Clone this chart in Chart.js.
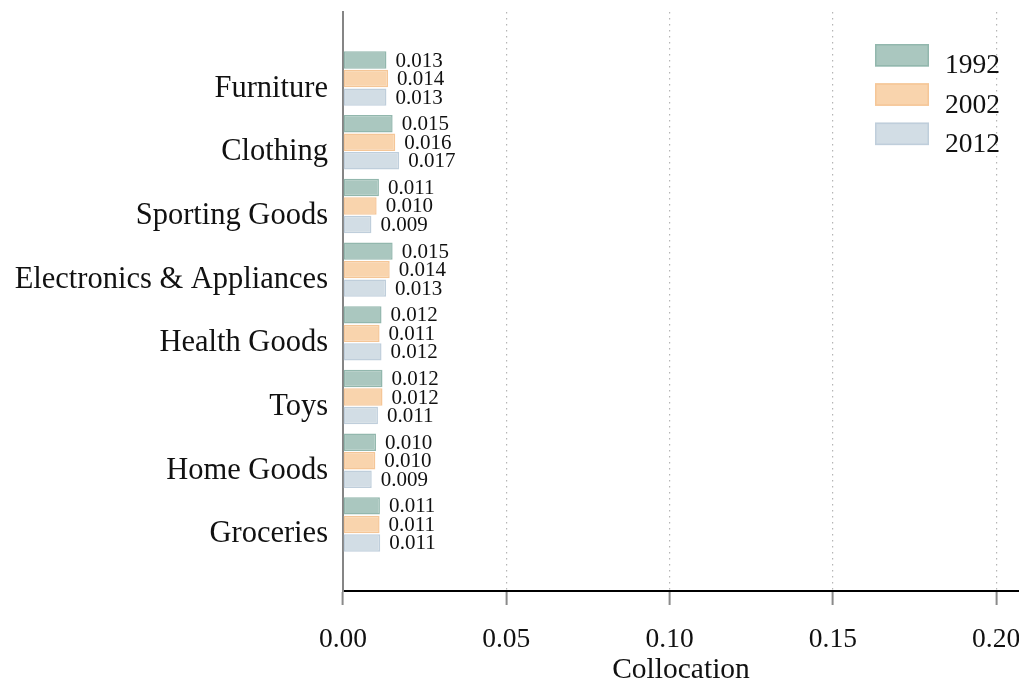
<!DOCTYPE html>
<html>
<head>
<meta charset="utf-8">
<script src="https://cdn.jsdelivr.net/npm/chart.js@4/dist/chart.umd.min.js"></script>
<style>
  html, body { margin: 0; padding: 0; background: #fff; overflow: hidden; }
  #wrap { width: 1019px; height: 679px; overflow: hidden; }
  canvas { display: block; }
</style>
</head>
<body>
<div id="wrap">
  <canvas id="chart" width="1060" height="679" style="width:1060px;height:679px"></canvas>
</div>
<script>
"use strict";

/* =========================================================================
  Data
=========================================================================== */
const categories = [
  "Furniture",
  "Clothing",
  "Sporting Goods",
  "Electronics & Appliances",
  "Health Goods",
  "Toys",
  "Home Goods",
  "Groceries",
];
const years = ["1992", "2002", "2012"];
const values1992 = [0.0133, 0.0152, 0.0110, 0.0152, 0.0118, 0.0121, 0.0101, 0.0113];
const values2002 = [0.0138, 0.0160, 0.0103, 0.0143, 0.0112, 0.0121, 0.0099, 0.0112];
const values2012 = [0.0133, 0.0172, 0.0087, 0.0132, 0.0118, 0.0107, 0.0088, 0.0114];
const xTicks = [0, 0.05, 0.1, 0.15, 0.2];

/* =========================================================================
  Style
=========================================================================== */
const FONT = "'Liberation Serif', 'Times New Roman', serif";
const FILLS = ["#aac7bf", "#f9d4ad", "#d2dde5"];
const EDGES = ["#92b7ad", "#f5c697", "#bfcedb"];

Chart.defaults.font.family = FONT;
Chart.defaults.color = "#111";

/* =========================================================================
  Plugins
=========================================================================== */
const valueLabels = {
  id: "valueLabels",
  afterDatasetsDraw(chart) {
    const ctx = chart.ctx;
    ctx.save();
    ctx.font = `21px ${FONT}`;
    ctx.fillStyle = "#111";
    ctx.textAlign = "left";
    ctx.textBaseline = "middle";
    chart.data.datasets.forEach((ds, i) => {
      chart.getDatasetMeta(i).data.forEach((bar, j) => {
        ctx.fillText(ds.data[j].toFixed(3), bar.x + 9, bar.y + 1);
      });
    });
    ctx.restore();
  },
};

const boxLegend = {
  id: "boxLegend",
  afterDraw(chart) {
    const ctx = chart.ctx;
    ctx.save();
    ctx.font = `27.5px ${FONT}`;
    ctx.textAlign = "left";
    ctx.textBaseline = "middle";
    chart.data.datasets.forEach((ds, i) => {
      const top = 44 + i * 39.3;
      ctx.fillStyle = ds.backgroundColor;
      ctx.fillRect(875, top, 54, 22.5);
      ctx.strokeStyle = ds.borderColor;
      ctx.lineWidth = 1.5;
      ctx.strokeRect(875.75, top + 0.75, 52.5, 21);
      ctx.fillStyle = "#111";
      ctx.fillText(ds.label, 945, top + 22);
    });
    ctx.restore();
  },
};

/* =========================================================================
  Chart
=========================================================================== */
const seriesValues = [values1992, values2002, values2012];

new Chart(document.getElementById("chart"), {
  type: "bar",
  data: {
    labels: categories,
    datasets: years.map((year, i) => ({
      label: year,
      data: seriesValues[i],
      backgroundColor: FILLS[i],
      borderColor: EDGES[i],
      borderWidth: 1.5,
      borderSkipped: false,
      categoryPercentage: 0.872,
      barPercentage: 0.94,
    })),
  },
  options: {
    indexAxis: "y",
    responsive: false,
    animation: false,
    devicePixelRatio: 1,
    layout: { padding: { top: 12, right: 41, left: 0, bottom: 0 } },
    plugins: {
      legend: { display: false },
      tooltip: { enabled: false },
    },
    scales: {
      x: {
        type: "linear",
        min: 0,
        max: 0.207,
        afterBuildTicks: (scale) => {
          scale.ticks = xTicks.map((v) => ({ value: v }));
        },
        afterFit: (scale) => {
          scale.height = 88;
          scale.paddingLeft = 0;
          scale.paddingRight = 0;
        },
        ticks: {
          font: { size: 27.5 },
          color: "#111",
          padding: 18,
          callback: (v) => Number(v).toFixed(2),
        },
        grid: {
          color: (c) => (c.tick && c.tick.value === 0 ? "rgba(0,0,0,0)" : "#b5b5b5"),
          lineWidth: 1.2,
          tickColor: "#8a8a8a",
          tickWidth: 2,
          tickLength: 14,
          tickBorderDash: [],
        },
        border: { display: true, color: "#000", width: 2, dash: [1.5, 4.5] },
        title: {
          display: true,
          text: "Collocation",
          font: { size: 29.5 },
          color: "#111",
          padding: { top: 0, bottom: -9 },
        },
      },
      y: {
        type: "category",
        offset: true,
        afterBuildTicks: (scale) => {
          scale._startValue = -1.045;
          scale._valueRange = 9.09;
        },
        afterFit: (scale) => {
          scale.width = 343;
          scale.paddingTop = 0;
          scale.paddingBottom = 0;
        },
        ticks: {
          font: { size: 30.5 },
          color: "#111",
          padding: 15,
          labelOffset: 10,
        },
        grid: { display: false, drawTicks: false },
        border: { display: true, color: "#858585", width: 2 },
      },
    },
  },
  plugins: [valueLabels, boxLegend],
});
</script>
</body>
</html>
